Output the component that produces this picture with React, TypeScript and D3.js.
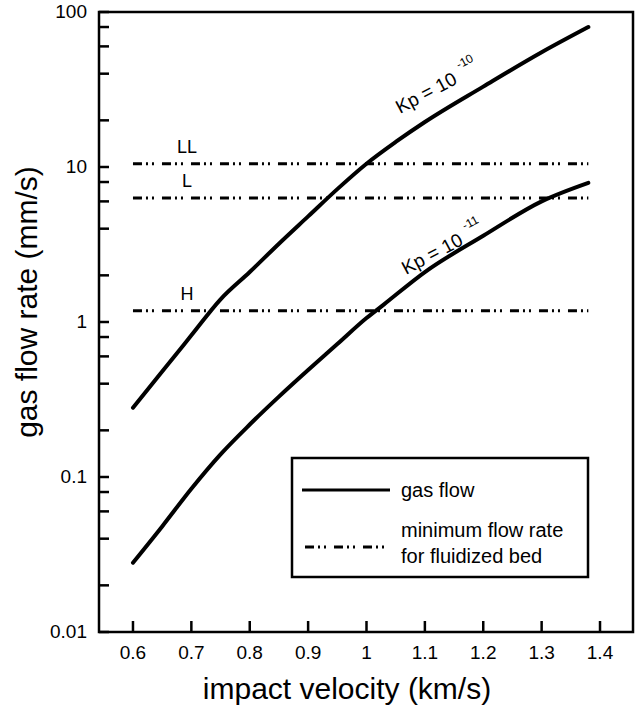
import React, { useEffect, useRef } from 'react';
import * as d3 from 'd3';

// impact velocity (km/s) vs gas flow rate (mm/s)
const velHigh = [0.6, 0.65, 0.7, 0.75, 0.8, 0.85, 0.9, 0.95, 1.0, 1.05, 1.1, 1.2, 1.3, 1.38];
const flowHigh = [0.28, 0.48, 0.82, 1.4, 2.1, 3.2, 4.8, 7.2, 10.5, 14.5, 19.5, 33, 55, 80];

const velLow = [0.6, 0.65, 0.7, 0.75, 0.8, 0.85, 0.9, 0.95, 1.0, 1.03, 1.1, 1.2, 1.3, 1.38];
const flowLow = [0.028, 0.048, 0.084, 0.14, 0.218, 0.33, 0.49, 0.72, 1.06, 1.3, 2.1, 3.6, 6.0, 7.9];

const bedNames = ['LL', 'L', 'H'];
const bedFlows = [10.5, 6.3, 1.18];
const bedRange = [0.6, 1.38];

const xTicks = [0.6, 0.7, 0.8, 0.9, 1, 1.1, 1.2, 1.3, 1.4];
const yMajor = [0.01, 0.1, 1, 10, 100];
const yMinorMult = [2, 4, 6, 8];

const W = 643;
const H = 708;
const FONT = 'Liberation Sans, Arial, sans-serif';
const DASHDOT = '9 4 2 4 2 8';

export default function App() {
  const svgRef = useRef<SVGSVGElement>(null);

  useEffect(() => {
    if (!svgRef.current) return;
    const svg = d3.select(svgRef.current);
    svg.selectAll('*').remove();

    const left = 99, right = 633, top = 12, bottom = 632;
    const x = d3.scaleLinear().domain([0.5418, 1.4565]).range([left, right]);
    const y = d3.scaleLog().domain([0.01, 100]).range([bottom, top]);

    svg.append('rect').attr('width', W).attr('height', H).attr('fill', '#fff');

    // frame
    svg.append('rect')
      .attr('x', left).attr('y', top)
      .attr('width', right - left).attr('height', bottom - top)
      .attr('fill', 'none').attr('stroke', '#000').attr('stroke-width', 2.5);

    // x ticks (inward)
    xTicks.forEach(t => {
      svg.append('line')
        .attr('x1', x(t)).attr('x2', x(t))
        .attr('y1', bottom).attr('y2', bottom - 11)
        .attr('stroke', '#000').attr('stroke-width', 2.5);
      svg.append('text')
        .attr('x', x(t)).attr('y', 659)
        .attr('text-anchor', 'middle')
        .style('font-family', FONT).style('font-size', '19px')
        .text(String(t));
    });

    // y ticks
    const yTickVals: number[] = [];
    yMajor.forEach((m, i) => {
      yTickVals.push(m);
      if (i < yMajor.length - 1) yMinorMult.forEach(k => yTickVals.push(m * k));
    });
    yTickVals.forEach(t => {
      svg.append('line')
        .attr('x1', left).attr('x2', left + 10)
        .attr('y1', y(t)).attr('y2', y(t))
        .attr('stroke', '#000').attr('stroke-width', 2.5);
    });
    yMajor.forEach(t => {
      svg.append('text')
        .attr('x', 87).attr('y', y(t) + 6)
        .attr('text-anchor', 'end')
        .style('font-family', FONT).style('font-size', '19px')
        .text(String(t));
    });

    // axis titles
    svg.append('text')
      .attr('x', 347).attr('y', 699)
      .attr('text-anchor', 'middle')
      .style('font-family', FONT).style('font-size', '30px')
      .text('impact velocity (km/s)');
    svg.append('text')
      .attr('transform', 'translate(37,302) rotate(-90)')
      .attr('text-anchor', 'middle')
      .style('font-family', FONT).style('font-size', '30px')
      .text('gas flow rate (mm/s)');

    // minimum flow rate lines
    bedFlows.forEach((f, i) => {
      svg.append('line')
        .attr('x1', x(bedRange[0])).attr('x2', x(bedRange[1]))
        .attr('y1', y(f)).attr('y2', y(f))
        .attr('stroke', '#000').attr('stroke-width', 3)
        .attr('stroke-dasharray', DASHDOT);
      svg.append('text')
        .attr('x', 187).attr('y', y(f) - 11)
        .attr('text-anchor', 'middle')
        .style('font-family', FONT).style('font-size', '18px')
        .text(bedNames[i]);
    });

    // gas flow curves
    const line = d3.line<[number, number]>()
      .x(d => x(d[0]))
      .y(d => y(d[1]))
      .curve(d3.curveMonotoneX);

    [[velHigh, flowHigh], [velLow, flowLow]].forEach(([vs, fs]) => {
      const pts = vs.map((v, i) => [v, fs[i]] as [number, number]);
      svg.append('path')
        .attr('d', line(pts))
        .attr('fill', 'none')
        .attr('stroke', '#000')
        .attr('stroke-width', 4)
        .attr('stroke-linecap', 'round');
    });

    // curve labels
    const kpLabel = (px: number, py: number, exp: string) => {
      const t = svg.append('text')
        .attr('transform', `translate(${px},${py}) rotate(-28)`)
        .style('font-family', FONT).style('font-size', '19px');
      t.append('tspan').text('Kp = 10');
      t.append('tspan').attr('dx', 7).attr('dy', -12).style('font-size', '12px').text(exp);
    };
    kpLabel(400, 114, '-10');
    kpLabel(406, 275, '-11');

    // legend
    const lg = svg.append('g');
    lg.append('rect')
      .attr('x', 292).attr('y', 458)
      .attr('width', 296).attr('height', 119)
      .attr('fill', '#fff').attr('stroke', '#000').attr('stroke-width', 2.5);
    lg.append('line')
      .attr('x1', 302).attr('x2', 390).attr('y1', 490).attr('y2', 490)
      .attr('stroke', '#000').attr('stroke-width', 3);
    lg.append('text')
      .attr('x', 401).attr('y', 497)
      .style('font-family', FONT).style('font-size', '20px')
      .text('gas flow');
    lg.append('line')
      .attr('x1', 305).attr('x2', 390).attr('y1', 547).attr('y2', 547)
      .attr('stroke', '#000').attr('stroke-width', 3)
      .attr('stroke-dasharray', DASHDOT);
    lg.append('text')
      .attr('x', 401).attr('y', 537)
      .style('font-family', FONT).style('font-size', '20px')
      .text('minimum flow rate');
    lg.append('text')
      .attr('x', 401).attr('y', 563)
      .style('font-family', FONT).style('font-size', '20px')
      .text('for fluidized bed');
  }, []);

  return (
    <svg
      ref={svgRef}
      width={W}
      height={H}
      style={{ position: 'absolute', left: 0, top: 0 }}
    />
  );
}
